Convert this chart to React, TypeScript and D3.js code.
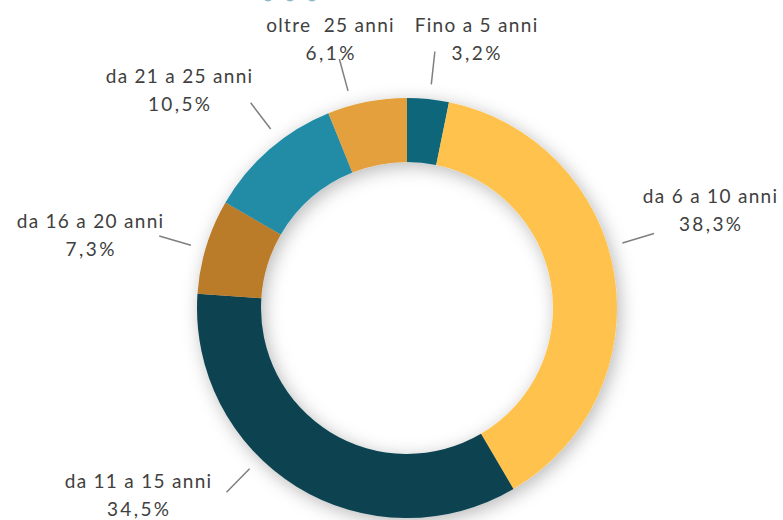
import React from "react";
import * as d3 from "d3";

const categories = ["Fino a 5 anni", "da 6 a 10 anni", "da 11 a 15 anni", "da 16 a 20 anni", "da 21 a 25 anni", "oltre  25 anni"];
const values = [3.2, 38.3, 34.5, 7.3, 10.5, 6.1];
const valueLabels = ["3,2%", "38,3%", "34,5%", "7,3%", "10,5%", "6,1%"];
const colors = ["#0E6679", "#FEC24D", "#0A4351", "#BB7C2C", "#208CA6", "#E3A03D"];

// layout (positions of the label blocks and leader angles), not data
const labelX = [476, 710, 138, 90, 179, 330];
const labelY = [32, 203, 488, 228, 83, 32];
const leaderAngleDeg = [6.2, 73.2, 224.4, -73.8, -37.3, -15.2];

const W = 783;
const H = 520;
const cx = 407;
const cy = 308;
const outerR = 210;
const innerR = 146;

export default function App() {
  const pie = d3.pie<number>().value((d) => d).sort(null);
  const arcs = pie(values);
  const arc = d3.arc<d3.PieArcDatum<number>>().innerRadius(innerR).outerRadius(outerR);
  const polar = (deg: number, r: number) => {
    const a = (deg * Math.PI) / 180;
    return [cx + r * Math.sin(a), cy - r * Math.cos(a)];
  };
  return (
    <svg width={W} height={H} style={{ position: "absolute", left: 0, top: 0, background: "#fff" }}>
      <defs>
        <filter id="sh" x="-20%" y="-20%" width="140%" height="140%">
          <feDropShadow dx="3" dy="4" stdDeviation="9" floodColor="#000" floodOpacity="0.28" />
        </filter>
      </defs>
      <g fill="#8FB9C2">
        {[268, 290, 312].map((x) => (
          <circle key={x} cx={x} cy={-4} r={5.5} />
        ))}
      </g>
      <g transform={`translate(${cx},${cy})`} filter="url(#sh)">
        {arcs.map((a, i) => (
          <path key={i} d={arc(a) || ""} fill={colors[i]} />
        ))}
      </g>
      <g stroke="#7F7F7F" strokeWidth={1.5}>
        {leaderAngleDeg.map((deg, i) => {
          const [x1, y1] = polar(deg, 225);
          const [x2, y2] = polar(deg, 258);
          return <line key={i} x1={x1} y1={y1} x2={x2} y2={y2} />;
        })}
      </g>
      <g fontFamily="Lato, 'Open Sans', sans-serif" fontSize={19} fill="#404040" textAnchor="middle">
        {categories.map((c, i) => (
          <text key={i} x={labelX[i]} y={labelY[i]}>
            <tspan x={labelX[i] + 0.6} letterSpacing={1.3} style={{ whiteSpace: "pre" }}>{c}</tspan>
            <tspan x={labelX[i] + 1.2} dy={28} letterSpacing={2.4}>{valueLabels[i]}</tspan>
          </text>
        ))}
      </g>
    </svg>
  );
}
